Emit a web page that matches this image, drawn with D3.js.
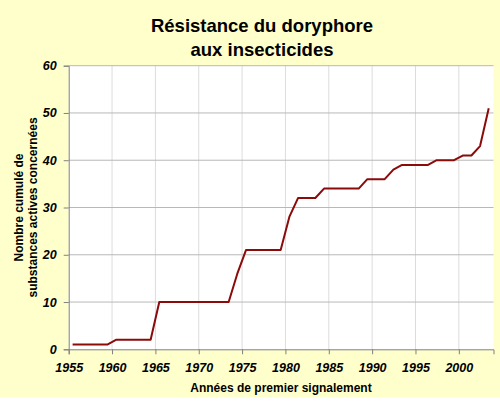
<!DOCTYPE html>
<html>
<head>
<meta charset="utf-8">
<script src="https://cdn.jsdelivr.net/npm/d3@7"></script>
<style>
  body { margin: 0; background: #fff; }
  svg { display: block; font-family: "Liberation Sans", Arial, sans-serif; }
</style>
</head>
<body>
<div id="chart"></div>
<script>
// years of first report and cumulative count of active substances
const years = [1955, 1959, 1960, 1964, 1965, 1973, 1974, 1975, 1979, 1980, 1981, 1983,
  1984, 1988, 1989, 1991, 1992, 1993, 1996, 1997, 1999, 2000, 2001, 2002, 2003];
const counts = [1, 1, 2, 2, 10, 10, 16, 21, 21, 28, 32, 32,
  34, 34, 36, 36, 38, 39, 39, 40, 40, 41, 41, 43, 51];
const xTicks = [1955, 1960, 1965, 1970, 1975, 1980, 1985, 1990, 1995, 2000];
const yTicks = [0, 10, 20, 30, 40, 50, 60];
const titleLines = ["Résistance du doryphore", "aux insecticides"];
const yTitleLines = ["Nombre cumulé de", "substances actives concernées"];
const xTitle = "Années de premier signalement";

const width = 500, height = 401;
const plotLeft = 68.7, plotRight = 493.5, plotTop = 65.7, plotBottom = 349.3;
const yearShift = 0.45; // points sit inside the year, not on the tick

const svg = d3.select("#chart").append("svg")
  .attr("width", width)
  .attr("height", height);

svg.append("rect")
  .attr("width", width).attr("height", 397)
  .attr("fill", "#ffffcc");

svg.append("rect")
  .attr("x", plotLeft).attr("y", plotTop)
  .attr("width", plotRight - plotLeft).attr("height", plotBottom - plotTop)
  .attr("fill", "#fff");

const x = d3.scaleLinear().domain([1955, 2004]).range([plotLeft, plotRight]);
const y = d3.scaleLinear().domain([0, 60]).range([plotBottom, plotTop]);

// gridlines
svg.append("g")
  .selectAll("line")
  .data(xTicks.slice(1))
  .join("line")
  .attr("x1", (d) => x(d)).attr("x2", (d) => x(d))
  .attr("y1", plotTop).attr("y2", plotBottom)
  .attr("stroke", "#dcdcdc");

svg.append("g")
  .selectAll("line")
  .data(yTicks.slice(1))
  .join("line")
  .attr("x1", plotLeft).attr("x2", plotRight)
  .attr("y1", (d) => y(d)).attr("y2", (d) => y(d))
  .attr("stroke", "#b8b8b8");

// axes
const xAxis = svg.append("g")
  .attr("transform", `translate(0,${plotBottom})`)
  .call(d3.axisBottom(x).tickValues(xTicks).tickFormat(d3.format("d")).tickSize(5).tickPadding(9));
xAxis.select(".domain").attr("stroke", "#808080");
xAxis.selectAll(".tick line").attr("stroke", "#808080");
xAxis.selectAll("text")
  .attr("fill", "#000")
  .style("font", "italic bold 12.5px 'Liberation Sans', Arial, sans-serif");

const yAxis = svg.append("g")
  .attr("transform", `translate(${plotLeft},0)`)
  .call(d3.axisLeft(y).tickValues(yTicks).tickSize(5).tickPadding(7));
yAxis.select(".domain").attr("stroke", "#808080");
yAxis.selectAll(".tick line").attr("stroke", "#808080");
yAxis.selectAll("text")
  .attr("fill", "#000")
  .style("font", "italic bold 12.5px 'Liberation Sans', Arial, sans-serif");

// the series
const line = d3.line()
  .x((d, i) => x(years[i] + yearShift))
  .y((d) => y(d));

svg.append("path")
  .datum(counts)
  .attr("d", line)
  .attr("fill", "none")
  .attr("stroke", "#8b0a0a")
  .attr("stroke-width", 2)
  .attr("stroke-linejoin", "round");

// titles
svg.append("text")
  .attr("x", 262).attr("y", 32)
  .attr("text-anchor", "middle")
  .style("font", "bold 18.5px 'Liberation Sans', Arial, sans-serif")
  .selectAll("tspan")
  .data(titleLines)
  .join("tspan")
  .attr("x", 262)
  .attr("dy", (d, i) => (i ? 24 : 0))
  .text((d) => d);

svg.append("text")
  .attr("x", 281).attr("y", 391.5)
  .attr("text-anchor", "middle")
  .style("font", "bold 12px 'Liberation Sans', Arial, sans-serif")
  .text(xTitle);

svg.append("text")
  .attr("transform", `translate(22.5,${(plotTop + plotBottom) / 2}) rotate(-90)`)
  .attr("text-anchor", "middle")
  .style("font", "bold 12px 'Liberation Sans', Arial, sans-serif")
  .selectAll("tspan")
  .data(yTitleLines)
  .join("tspan")
  .attr("x", 0)
  .attr("dy", (d, i) => (i ? 14 : 0))
  .text((d) => d);
</script>
</body>
</html>
